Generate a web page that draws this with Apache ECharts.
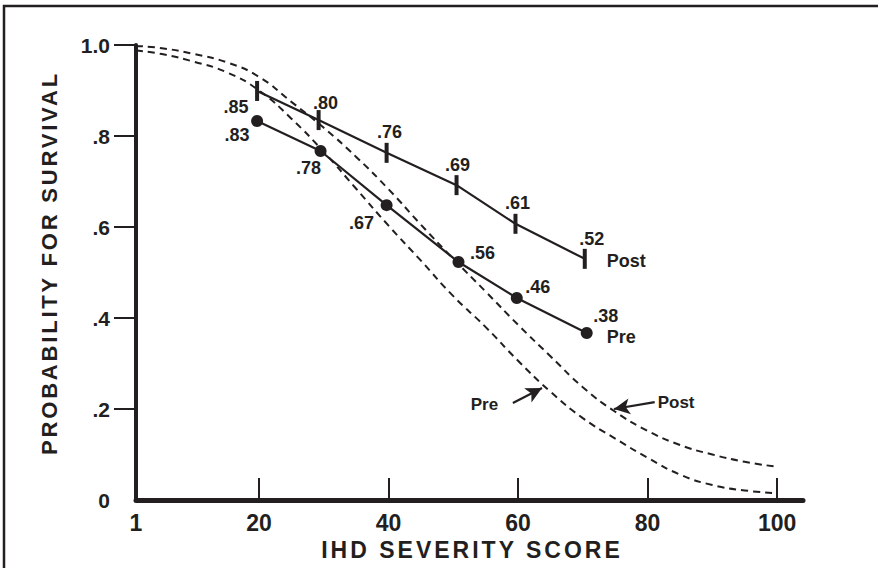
<!DOCTYPE html>
<html>
<head>
<meta charset="utf-8">
<script src="https://cdn.jsdelivr.net/npm/echarts@6/dist/echarts.min.js"></script>
<style>
html,body{margin:0;padding:0;background:#fff;}
#chart{width:878px;height:568px;}
</style>
</head>
<body>
<div id="chart"></div>
<script>
// ---- data ----
const xTickValues = [20, 40, 60, 80, 100];
const xLabelValues = [1, 20, 40, 60, 80, 100];
const yTickValues = [0.2, 0.4, 0.6, 0.8, 1.0];
const yLabelValues = [0, 0.2, 0.4, 0.6, 0.8, 1.0];
const yLabelText = ['0', '.2', '.4', '.6', '.8', '1.0'];

const postX = [19.7, 29.2, 39.7, 50.5, 59.6, 70.3];
const postY = [0.899, 0.835, 0.763, 0.692, 0.607, 0.53];
const postLabels = ['.85', '.80', '.76', '.69', '.61', '.52'];

const preX = [19.7, 29.5, 39.7, 50.8, 59.8, 70.6];
const preY = [0.833, 0.767, 0.648, 0.523, 0.444, 0.367];
const preLabels = ['.83', '.78', '.67', '.56', '.46', '.38'];

const postCurveX = [1, 5, 10, 15, 20, 25, 30, 35, 40, 45, 50, 55, 60, 65, 70, 75, 80, 85, 90, 95, 100];
const postCurveY = [0.998, 0.993, 0.98, 0.962, 0.93, 0.875, 0.818, 0.754, 0.683, 0.605, 0.53, 0.458, 0.385, 0.316, 0.248, 0.194, 0.152, 0.121, 0.1, 0.084, 0.073];

const preCurveX = [1, 5, 10, 15, 20, 25, 30, 35, 40, 45, 50, 55, 60, 65, 70, 75, 80, 85, 90, 95, 100];
const preCurveY = [0.988, 0.98, 0.963, 0.94, 0.9, 0.838, 0.765, 0.684, 0.603, 0.526, 0.448, 0.38, 0.306, 0.238, 0.18, 0.135, 0.093, 0.056, 0.033, 0.021, 0.015];

const annPreArrow = [[59.2, 0.213], [63.7, 0.246]];
const annPostArrow = [[81.1, 0.215], [74.8, 0.2]];
const annPreText = {x: 54.8, y: 0.209, text: 'Pre'};
const annPostText = {x: 84.4, y: 0.215, text: 'Post'};

const xTitle = 'IHD SEVERITY SCORE';
const yTitle = 'PROBABILITY FOR SURVIVAL';

// ---- styles (kept apart from data) ----
const INK = '#231f20';
const FONT = '"Liberation Sans", Arial, Helvetica, sans-serif';
const postLabelOffsets = [[-21, 16], [7, -17], [3, -21], [1, -20], [2, -21], [7, -20]];
const preLabelOffsets = [[-20, 14], [-12, 17], [-25, 18], [24, -9], [21, -11], [19, -17]];

function zip(xs, ys) { return xs.map((x, i) => [x, ys[i]]); }

function pointData(xs, ys, labels, offsets) {
  return xs.map((x, i) => ({
    value: [x, ys[i]],
    label: {
      show: true, formatter: labels[i], position: 'inside', offset: offsets[i],
      color: INK, fontFamily: FONT, fontWeight: 'bold', fontSize: 18
    }
  }));
}

const chart = echarts.init(document.getElementById('chart'), null, {renderer: 'svg'});

const dashed = {type: [7, 5], width: 2, color: INK};

const option = {
  animation: false,
  backgroundColor: '#fff',
  grid: {left: 136, top: 45, width: 667, height: 455, containLabel: false},
  xAxis: {
    type: 'value', min: 1, max: 104,
    axisLine: {show: true, onZero: false, lineStyle: {color: INK, width: 5}},
    axisTick: {show: true, inside: true, length: 22, customValues: xTickValues, lineStyle: {color: INK, width: 2}},
    axisLabel: {customValues: xLabelValues, color: INK, fontFamily: FONT, fontWeight: 'bold', fontSize: 23, margin: 11},
    splitLine: {show: false}
  },
  yAxis: {
    type: 'value', min: 0, max: 1, interval: 0.2,
    axisLine: {show: true, onZero: false, lineStyle: {color: INK, width: 4}},
    axisTick: {show: true, length: 22, customValues: yTickValues, lineStyle: {color: INK, width: 2}},
    axisLabel: {
      customValues: yLabelValues, color: INK, fontFamily: FONT, fontWeight: 'bold', fontSize: 21, margin: 26,
      formatter: function (v) {
        const i = yLabelValues.findIndex(u => Math.abs(u - v) < 1e-6);
        return i >= 0 ? yLabelText[i] : '';
      }
    },
    splitLine: {show: false}
  },
  graphic: [
    {type: 'rect', shape: {x: 4, y: 6, width: 900, height: 600}, style: {fill: 'none', stroke: INK, lineWidth: 2.5}, silent: true},
    {type: 'text', x: 472, y: 550, style: {text: xTitle, fill: INK, font: 'bold 23px ' + FONT, textAlign: 'center', textVerticalAlign: 'middle'}},
    {type: 'text', x: 49, y: 263, rotation: Math.PI / 2, style: {text: yTitle, fill: INK, font: 'bold 22px ' + FONT, textAlign: 'center', textVerticalAlign: 'middle'}}
  ],
  series: [
    {
      name: 'Post curve', type: 'line', data: zip(postCurveX, postCurveY), smooth: 0.5, showSymbol: false,
      lineStyle: dashed, silent: true, z: 2,
      markLine: {
        silent: true, symbol: ['none', 'arrow'], symbolSize: [12, 16],
        label: {show: false},
        lineStyle: {type: 'solid', width: 2.2, color: INK},
        data: [[{coord: annPostArrow[0]}, {coord: annPostArrow[1]}]]
      },
      markPoint: {
        silent: true, symbol: 'circle', symbolSize: 0,
        data: [{coord: [annPostText.x, annPostText.y], label: {show: true, formatter: annPostText.text, position: 'inside', color: INK, fontFamily: FONT, fontWeight: 'bold', fontSize: 17}}]
      }
    },
    {
      name: 'Pre curve', type: 'line', data: zip(preCurveX, preCurveY), smooth: 0.5, showSymbol: false,
      lineStyle: dashed, silent: true, z: 2,
      markLine: {
        silent: true, symbol: ['none', 'arrow'], symbolSize: [12, 16],
        label: {show: false},
        lineStyle: {type: 'solid', width: 2.2, color: INK},
        data: [[{coord: annPreArrow[0]}, {coord: annPreArrow[1]}]]
      },
      markPoint: {
        silent: true, symbol: 'circle', symbolSize: 0,
        data: [{coord: [annPreText.x, annPreText.y], label: {show: true, formatter: annPreText.text, position: 'inside', color: INK, fontFamily: FONT, fontWeight: 'bold', fontSize: 17}}]
      }
    },
    {
      name: 'Post', type: 'line', data: pointData(postX, postY, postLabels, postLabelOffsets),
      symbol: 'rect', symbolSize: [4, 20], showSymbol: true,
      itemStyle: {color: INK}, lineStyle: {color: INK, width: 2.2}, z: 3,
      endLabel: {show: true, formatter: 'Post', offset: [14, 2], color: INK, fontFamily: FONT, fontWeight: 'bold', fontSize: 18}
    },
    {
      name: 'Pre', type: 'line', data: pointData(preX, preY, preLabels, preLabelOffsets),
      symbol: 'circle', symbolSize: 12, showSymbol: true,
      itemStyle: {color: INK}, lineStyle: {color: INK, width: 2.2}, z: 3,
      endLabel: {show: true, formatter: 'Pre', offset: [12, 4], color: INK, fontFamily: FONT, fontWeight: 'bold', fontSize: 18}
    }
  ]
};

chart.setOption(option);

function applySpacing() {
  document.querySelectorAll('#chart text').forEach(function (t) {
    const s = t.textContent;
    if (s === xTitle) t.setAttribute('letter-spacing', '3');
    else if (s === yTitle) t.setAttribute('letter-spacing', '2.8');
  });
}
try { chart.getZr().flush(); } catch (e) {}
applySpacing();
chart.on('finished', applySpacing);
setTimeout(applySpacing, 50);
</script>
</body>
</html>
